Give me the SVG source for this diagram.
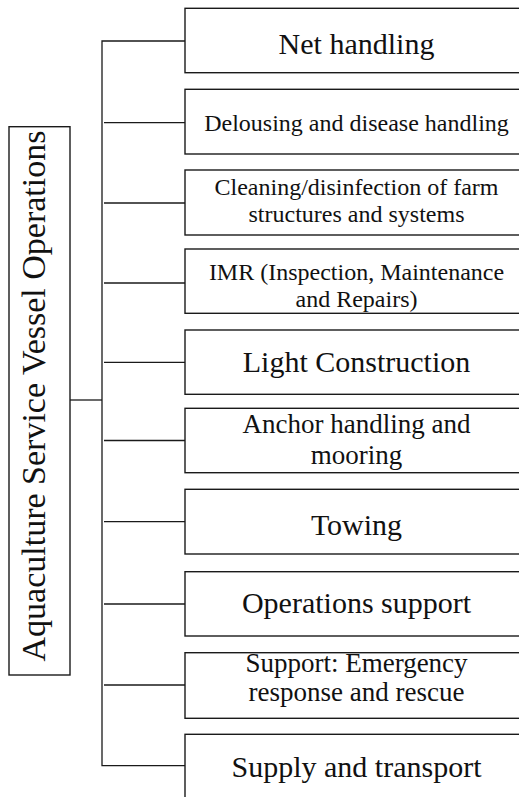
<svg xmlns="http://www.w3.org/2000/svg" width="519" height="797" viewBox="0 0 519 797">
  <style>
    .box { fill: #ffffff; stroke: #1a1a1a; stroke-width: 1.4; }
    .wire { fill: none; stroke: #1a1a1a; stroke-width: 1.3; }
    .lbl { fill: #111111; text-anchor: middle; }
    .big { font-size: 30px; }
    .mid { font-size: 27px; }
    .small { font-size: 24px; }
  </style>
  <rect width="519" height="797" fill="#ffffff"/>

  <!-- tree connectors -->
  <g id="connectors">
    <path class="wire" d="M70,400 H102"/>
    <path class="wire" d="M185,41 H102 V765.7 H185"/>
    <path class="wire" d="M104,122.7 H185"/>
    <path class="wire" d="M104,203 H185"/>
    <path class="wire" d="M104,283 H185"/>
    <path class="wire" d="M104,362.3 H185"/>
    <path class="wire" d="M104,440.5 H185"/>
    <path class="wire" d="M104,521.7 H185"/>
    <path class="wire" d="M104,604 H185"/>
    <path class="wire" d="M104,685 H185"/>
  </g>

  <g font-family="Liberation Serif, DejaVu Serif, serif">
    <!-- root -->
    <g id="root">
      <rect class="box" x="9" y="126.7" width="61" height="548.3"/>
      <text class="lbl" transform="translate(45,396) rotate(-90)" font-size="34">Aquaculture Service Vessel Operations</text>
    </g>

    <!-- operations -->
    <g id="net-handling">
      <rect class="box" x="185" y="8.3" width="345" height="64.4"/>
      <text class="lbl big" x="356.5" y="54.3">Net handling</text>
    </g>
    <g id="delousing">
      <rect class="box" x="185" y="89.3" width="345" height="64.7"/>
      <text class="lbl small" x="356.5" y="131">Delousing and disease handling</text>
    </g>
    <g id="cleaning">
      <rect class="box" x="185" y="170" width="345" height="65"/>
      <text class="lbl small" x="356.5" y="195">Cleaning/disinfection of farm</text>
      <text class="lbl small" x="356.5" y="222">structures and systems</text>
    </g>
    <g id="imr">
      <rect class="box" x="185" y="249" width="345" height="64.3"/>
      <text class="lbl small" x="356.5" y="280">IMR (Inspection, Maintenance</text>
      <text class="lbl small" x="356.5" y="307.3">and Repairs)</text>
    </g>
    <g id="light-construction">
      <rect class="box" x="185" y="330" width="345" height="64.3"/>
      <text class="lbl big" x="356.5" y="371.7">Light Construction</text>
    </g>
    <g id="anchor-handling">
      <rect class="box" x="185" y="408.3" width="345" height="64.4"/>
      <text class="lbl mid" x="356.5" y="433.3">Anchor handling and</text>
      <text class="lbl mid" x="356.5" y="464">mooring</text>
    </g>
    <g id="towing">
      <rect class="box" x="185" y="489.3" width="345" height="64.7"/>
      <text class="lbl big" x="356.5" y="535">Towing</text>
    </g>
    <g id="operations-support">
      <rect class="box" x="185" y="571.7" width="345" height="64.3"/>
      <text class="lbl big" x="356.5" y="613.3">Operations support</text>
    </g>
    <g id="emergency-support">
      <rect class="box" x="185" y="652.7" width="345" height="65.6"/>
      <text class="lbl mid" x="356.5" y="671.7">Support: Emergency</text>
      <text class="lbl mid" x="356.5" y="700.7">response and rescue</text>
    </g>
    <g id="supply-transport">
      <rect class="box" x="185" y="734.3" width="345" height="70"/>
      <text class="lbl big" x="356.5" y="777">Supply and transport</text>
    </g>
  </g>
</svg>
